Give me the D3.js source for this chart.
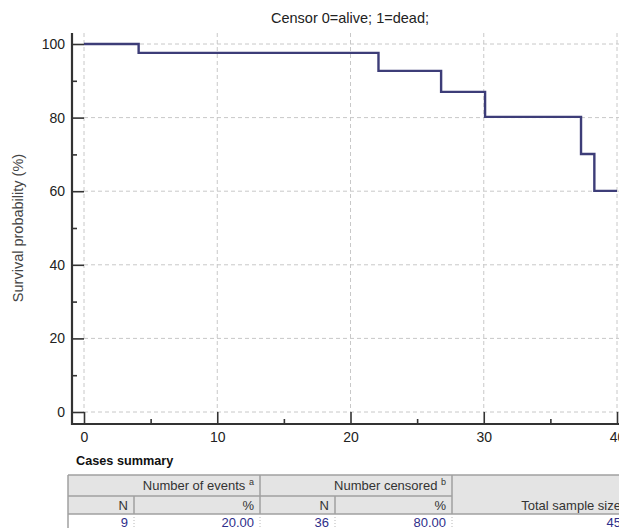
<!DOCTYPE html>
<html>
<head>
<meta charset="utf-8">
<script src="https://cdn.jsdelivr.net/npm/d3@7"></script>
<style>
body { margin: 0; background: #fff; }
svg { display: block; font-family: "Liberation Sans", Arial, sans-serif; }
</style>
</head>
<body>
<div id="chart"></div>
<script>
// Kaplan-Meier step values
var times    = [0, 4.1, 22.1, 26.8, 30.1, 37.3, 38.3, 40];
var survival = [100, 97.6, 92.7, 87.0, 80.2, 70.1, 60.1, 60.1];

var xTicks = [0, 10, 20, 30, 40];
var xMinor = [5, 15, 25, 35];
var yTicks = [0, 20, 40, 60, 80, 100];
var yMinor = [10, 30, 50, 70, 90];

var titleText = "Censor 0=alive; 1=dead;";
var yLabel = "Survival probability (%)";

// cases summary table
var groupHeaders = [["Number of events", "a"], ["Number censored", "b"]];
var subHeaders = ["N", "%", "N", "%"];
var totalHeader = "Total sample size";
var summaryValues = ["9", "20.00", "36", "80.00", "45"];

var width = 619, height = 528;
var svg = d3.select("#chart").append("svg").attr("width", width).attr("height", height);

var x = d3.scaleLinear().domain([0, 40]).range([84, 617]);
var y = d3.scaleLinear().domain([0, 100]).range([412, 44]);
var axisX = 72, axisY = 424, plotTop = 33;

// grid
svg.append("g").selectAll("line").data(yTicks).enter().append("line")
	.attr("x1", x(0)).attr("x2", width)
	.attr("y1", function(d) { return y(d); }).attr("y2", function(d) { return y(d); })
	.attr("stroke", "#c8c8c8").attr("stroke-dasharray", "4,3");
svg.append("g").selectAll("line").data(xTicks).enter().append("line")
	.attr("x1", function(d) { return x(d); }).attr("x2", function(d) { return x(d); })
	.attr("y1", plotTop).attr("y2", y(0))
	.attr("stroke", "#c8c8c8").attr("stroke-dasharray", "4,3");

// axes
var yAxis = svg.append("g").attr("transform", "translate(" + axisX + ",0)")
	.call(d3.axisLeft(y).tickValues(yTicks).tickSizeInner(-12).tickSizeOuter(0).tickPadding(7));
var yAxisMinor = svg.append("g").attr("transform", "translate(" + axisX + ",0)")
	.call(d3.axisLeft(y).tickValues(yMinor).tickSizeInner(-5).tickSizeOuter(0).tickFormat(""));
var xAxis = svg.append("g").attr("transform", "translate(0," + axisY + ")")
	.call(d3.axisBottom(x).tickValues(xTicks).tickSizeInner(-12).tickSizeOuter(0).tickPadding(8));
var xAxisMinor = svg.append("g").attr("transform", "translate(0," + axisY + ")")
	.call(d3.axisBottom(x).tickValues(xMinor).tickSizeInner(-5).tickSizeOuter(0).tickFormat(""));

[yAxis, yAxisMinor, xAxis, xAxisMinor].forEach(function(g) {
	g.select(".domain").remove();
	g.selectAll(".tick line").attr("stroke", "#333").attr("stroke-width", 1.6);
	g.selectAll(".tick text").attr("fill", "#222").style("font-size", "14px");
});

svg.append("line").attr("x1", axisX).attr("x2", axisX).attr("y1", plotTop).attr("y2", axisY + 1)
	.attr("stroke", "#333").attr("stroke-width", 2.2);
svg.append("line").attr("x1", axisX - 1).attr("x2", width).attr("y1", axisY).attr("y2", axisY)
	.attr("stroke", "#333").attr("stroke-width", 2.2);

// survival curve
var pts = times.map(function(t, i) { return [t, survival[i]]; });
var line = d3.line().curve(d3.curveStepAfter)
	.x(function(d) { return x(d[0]); })
	.y(function(d) { return y(d[1]); });
svg.append("path").datum(pts).attr("d", line)
	.attr("fill", "none").attr("stroke", "#3d3d78").attr("stroke-width", 2.4);

// title and y label
svg.append("text").attr("x", 350).attr("y", 23).attr("text-anchor", "middle")
	.style("font-size", "14.5px").attr("fill", "#222").text(titleText);
svg.append("text").attr("transform", "translate(23,228) rotate(-90)").attr("text-anchor", "middle")
	.style("font-size", "14.5px").attr("fill", "#444").text(yLabel);

// cases summary
svg.append("text").attr("x", 76).attr("y", 465).style("font-size", "12.7px")
	.style("font-weight", "bold").attr("fill", "#111").text("Cases summary");

var tbl = svg.append("g");
var tLeft = 68, tTop = 475, r1 = 496, r2 = 514, tBottom = 534;
var cols = [68, 134, 260, 335, 452, 640];
var border = "#a0a0a0", headFill = "#e4e4e4";

tbl.append("rect").attr("x", tLeft).attr("y", tTop).attr("width", cols[5] - tLeft).attr("height", r2 - tTop)
	.attr("fill", headFill);
tbl.append("rect").attr("x", tLeft).attr("y", r2).attr("width", cols[5] - tLeft).attr("height", tBottom - r2)
	.attr("fill", "#fff");

// header lines
var hLines = [[tLeft, cols[5], tTop], [tLeft, cols[4], r1], [tLeft, cols[5], r2]];
tbl.selectAll("line.h").data(hLines).enter().append("line").attr("class", "h")
	.attr("x1", function(d) { return d[0]; }).attr("x2", function(d) { return d[1]; })
	.attr("y1", function(d) { return d[2]; }).attr("y2", function(d) { return d[2]; })
	.attr("stroke", border).attr("stroke-width", 1.5);
var vHead = [[cols[0], tTop, tBottom], [cols[2], tTop, r2], [cols[4], tTop, r2], [cols[1], r1, r2], [cols[3], r1, r2]];
tbl.selectAll("line.v").data(vHead).enter().append("line").attr("class", "v")
	.attr("x1", function(d) { return d[0]; }).attr("x2", function(d) { return d[0]; })
	.attr("y1", function(d) { return d[1]; }).attr("y2", function(d) { return d[2]; })
	.attr("stroke", border).attr("stroke-width", 1.5);
tbl.selectAll("line.d").data(cols.slice(1, 5)).enter().append("line").attr("class", "d")
	.attr("x1", function(d) { return d; }).attr("x2", function(d) { return d; })
	.attr("y1", r2).attr("y2", tBottom)
	.attr("stroke", "#b8b8b8").attr("stroke-dasharray", "1,2");

// header texts
groupHeaders.forEach(function(h, i) {
	var t = tbl.append("text").attr("x", cols[2 * i + 2] - 6).attr("y", 490).attr("text-anchor", "end")
		.style("font-size", "13px").attr("fill", "#333");
	t.append("tspan").text(h[0] + " ");
	t.append("tspan").attr("dy", -5).style("font-size", "9px").text(h[1]);
});
subHeaders.forEach(function(s, i) {
	tbl.append("text").attr("x", cols[i + 1] - 6).attr("y", 510).attr("text-anchor", "end")
		.style("font-size", "13px").attr("fill", "#333").text(s);
});
tbl.append("text").attr("x", 621).attr("y", 510).attr("text-anchor", "end")
	.style("font-size", "13px").attr("fill", "#333").text(totalHeader);

// data row
summaryValues.forEach(function(v, i) {
	var rx = i < 4 ? cols[i + 1] - 6 : 621;
	tbl.append("text").attr("x", rx).attr("y", 527).attr("text-anchor", "end")
		.style("font-size", "13px").attr("fill", "#2e2e8a").text(v);
});
</script>
</body>
</html>
